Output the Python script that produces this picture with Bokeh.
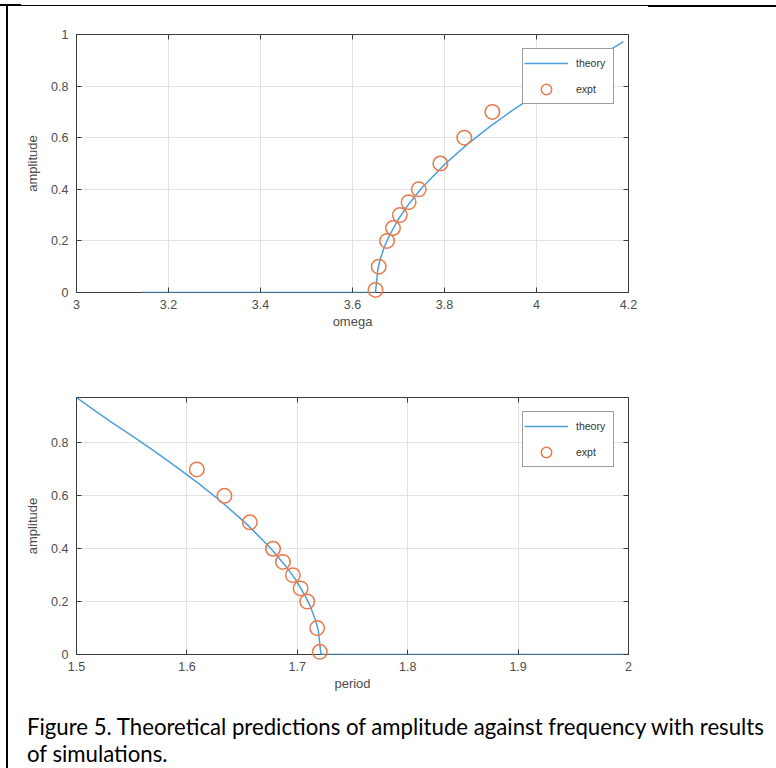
from bokeh.plotting import figure
from bokeh.layouts import column
from bokeh.models import Range1d, FixedTicker, LinearAxis, CustomJSTickFormatter, Div
from bokeh.embed import file_html
from bokeh.resources import INLINE

# Backbone curve: amplitude against angular frequency
theory_omega = [3.1416, 3.65, 3.655, 3.66, 3.67, 3.68, 3.70, 3.72, 3.75, 3.80,
                3.85, 3.90, 3.95, 4.00, 4.05, 4.10, 4.15, 4.189]
theory_amp_omega = [0, 0, 0.09, 0.127, 0.18, 0.22, 0.285, 0.337, 0.404, 0.496,
                    0.575, 0.645, 0.709, 0.768, 0.824, 0.876, 0.93, 0.972]

# Same curve against oscillation period
theory_period = [1.50, 1.514, 1.5325, 1.5514, 1.5708, 1.5907, 1.6111, 1.632, 1.6535,
                 1.6755, 1.689, 1.6982, 1.7074, 1.712, 1.7167, 1.7191, 1.7214, 2.0]
theory_amp_period = [0.972, 0.93, 0.876, 0.824, 0.768, 0.709, 0.645, 0.575, 0.496,
                     0.404, 0.337, 0.285, 0.22, 0.18, 0.127, 0.09, 0, 0]

# Simulation results
expt_amp = [0.01, 0.1, 0.2, 0.25, 0.3, 0.35, 0.4, 0.5, 0.6, 0.7]
expt_omega = [3.650, 3.657, 3.675, 3.688, 3.703, 3.722, 3.744, 3.791, 3.843, 3.904]
expt_period = [1.7204, 1.718, 1.709, 1.703, 1.696, 1.687, 1.678, 1.657, 1.634, 1.609]

# Tick positions and labels
omega_ticks = [3, 3.2, 3.4, 3.6, 3.8, 4, 4.2]
period_ticks = [1.5, 1.6, 1.7, 1.8, 1.9, 2]
amp_ticks_top = [0, 0.2, 0.4, 0.6, 0.8, 1]
amp_ticks_bottom = [0, 0.2, 0.4, 0.6, 0.8]

BLUE = "#4d9fdb"
ORANGE = "#e8794a"
AXIS = "#3a3a3a"
TEXT = "#4d4d4d"
FONT = "Liberation Sans"

plain = CustomJSTickFormatter(code="return String(tick);")
blank = CustomJSTickFormatter(code="return '';")


def style_axis(ax, labelled):
    ax.axis_line_color = None
    ax.major_tick_in = 5
    ax.major_tick_out = 0
    ax.major_tick_line_color = AXIS
    ax.minor_tick_line_color = None
    ax.major_label_text_color = TEXT
    ax.major_label_text_font = FONT
    ax.major_label_text_font_size = "12.5px"
    ax.axis_label_text_color = TEXT
    ax.axis_label_text_font = FONT
    ax.axis_label_text_font_size = "13px"
    ax.axis_label_text_font_style = "normal"
    ax.formatter = plain if labelled else blank


def make_panel(xr, yr, xticks, yticks, xlabel, top, fh, bottom):
    p = figure(frame_width=552, frame_height=fh, x_range=Range1d(*xr), y_range=Range1d(*yr),
               output_backend="svg", toolbar_location=None,
               min_border_left=76, min_border_right=148, min_border_top=top,
               min_border_bottom=bottom, background_fill_color="white",
               border_fill_color="white", outline_line_color=AXIS, outline_line_width=1)
    p.xaxis.ticker = FixedTicker(ticks=xticks)
    p.yaxis.ticker = FixedTicker(ticks=yticks)
    p.xaxis.axis_label = xlabel
    p.yaxis.axis_label = "amplitude"
    p.xaxis.major_label_standoff = 7
    p.xaxis.axis_label_standoff = 2
    p.yaxis.major_label_standoff = 8
    p.yaxis.axis_label_standoff = 8
    style_axis(p.xaxis[0], True)
    style_axis(p.yaxis[0], True)
    ax_top = LinearAxis(ticker=FixedTicker(ticks=xticks))
    ax_right = LinearAxis(ticker=FixedTicker(ticks=yticks))
    style_axis(ax_top, False)
    style_axis(ax_right, False)
    ax_top.major_label_standoff = 0
    ax_right.major_label_standoff = 0
    p.add_layout(ax_top, "above")
    p.add_layout(ax_right, "right")
    for g in (p.xgrid, p.ygrid):
        g.grid_line_color = "#e2e2e2"
        g.grid_line_width = 1
    p.xgrid.ticker = FixedTicker(ticks=xticks)
    p.ygrid.ticker = FixedTicker(ticks=yticks)
    return p


def add_series(p, tx, ty, ex, ey):
    p.line(tx, ty, line_color=BLUE, line_width=1.5, legend_label="theory")
    # open circles, kept unclipped so the lowest one can straddle the axis
    p.scatter(ex, ey, marker="circle", size=14.5, fill_color=None, line_color=ORANGE,
              line_width=1.5, legend_label="expt", level="overlay")
    lg = p.legend[0]
    lg.location = "top_right"
    lg.margin = 14
    lg.padding = 1
    lg.spacing = 0
    lg.glyph_width = 44
    lg.glyph_height = 26
    lg.label_height = 26
    lg.label_width = 36
    lg.label_standoff = 8
    lg.label_text_font = FONT
    lg.label_text_font_size = "10.5px"
    lg.label_text_color = "#333333"
    lg.border_line_color = AXIS
    lg.border_line_width = 1
    lg.background_fill_color = "white"
    lg.background_fill_alpha = 1


p1 = make_panel((3, 4.2), (0, 1), omega_ticks, amp_ticks_top, "omega", 34, 258, 48)
add_series(p1, theory_omega, theory_amp_omega, expt_omega, expt_amp)

p2 = make_panel((1.5, 2), (0, 0.972), period_ticks, amp_ticks_bottom, "period", 57, 257, 46)
add_series(p2, theory_period, theory_amp_period, expt_period, expt_amp)

caption = Div(
    text=(
        '<div style="position:fixed;left:0px;top:4px;width:21px;height:2px;background:#000"></div>'
        '<div style="position:fixed;left:6px;top:5px;width:642px;height:1px;background:#000"></div>'
        '<div style="position:fixed;left:648px;top:5px;width:128px;height:2px;background:#000"></div>'
        '<div style="position:fixed;left:6px;top:5px;width:2px;height:763px;background:#000"></div>'
        '<div style="font-family:Lato;font-size:22.2px;line-height:27px;color:#000;'
        'white-space:nowrap;padding-left:22px;padding-top:8px;">'
        'Figure 5. Theoretical predictions of amplitude against frequency with results<br>'
        'of simulations.</div>'
    ),
    width=776, height=68,
)

page = column(p1, p2, caption, spacing=0)

open("out.html", "w").write(file_html(page, INLINE))
